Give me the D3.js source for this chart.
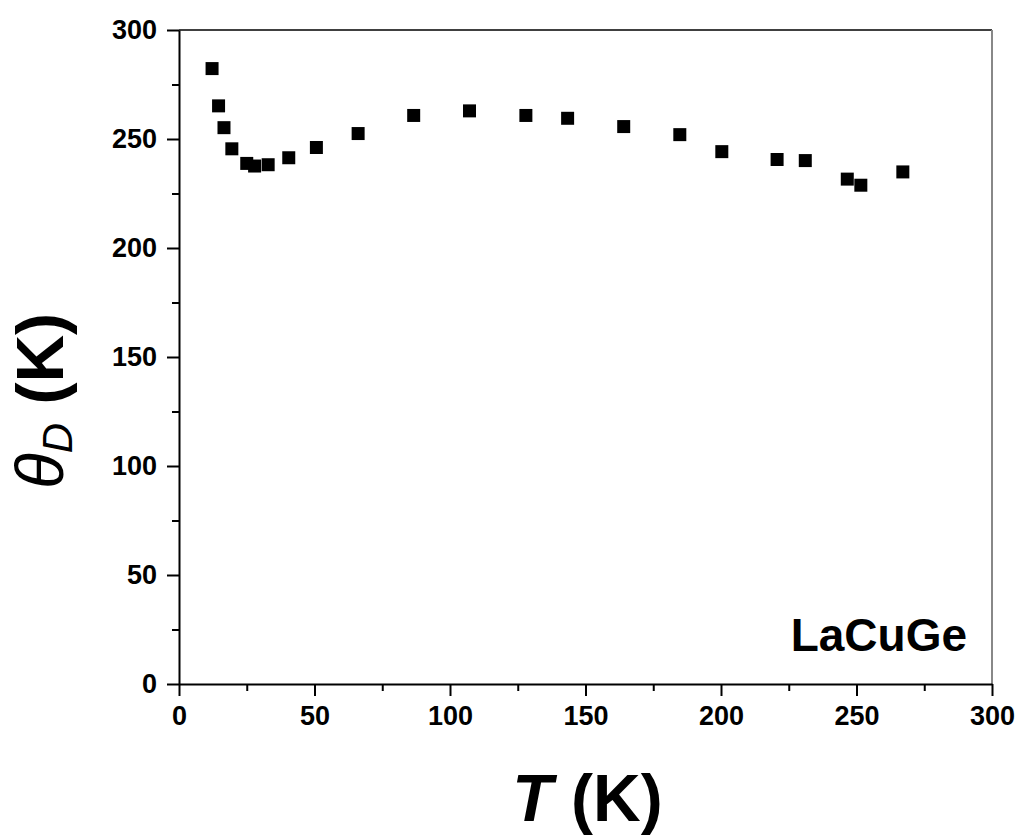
<!DOCTYPE html>
<html>
<head>
<meta charset="utf-8">
<script src="https://cdn.jsdelivr.net/npm/d3@7"></script>
<style>
  body { margin: 0; background: #fff; }
  text { font-family: "Liberation Sans", Arial, sans-serif; }
</style>
</head>
<body>
<svg id="chart" width="1023" height="838"></svg>
<script>
// ---- data ----
const temperature = [12.2, 14.6, 16.6, 19.5, 25.0, 27.9, 32.9, 40.5, 50.7, 66.1, 86.6,
                     107.2, 128.0, 143.4, 164.1, 184.8, 200.3, 220.7, 231.1, 246.6, 251.6, 267.1];
const thetaD = [282.3, 265.2, 255.2, 245.5, 238.8, 237.6, 238.2, 241.4, 246.1, 252.5, 260.8,
                262.9, 260.8, 259.5, 255.7, 252.0, 244.2, 240.6, 240.1, 231.6, 228.8, 234.9];
const xMajorTicks = [0, 50, 100, 150, 200, 250, 300];
const xMinorTicks = [25, 75, 125, 175, 225, 275];
const yMajorTicks = [0, 50, 100, 150, 200, 250, 300];
const yMinorTicks = [25, 75, 125, 175, 225, 275];
const sampleLabel = "LaCuGe";

// ---- layout ----
const svg = d3.select("#chart");
const mLeft = 179, mRight = 992, mTop = 30, mBottom = 684;

const x = d3.scaleLinear().domain([0, 300]).range([mLeft, mRight]);
const y = d3.scaleLinear().domain([0, 300]).range([mBottom, mTop]);

// frame: top & right
svg.append("line").attr("x1", x(0)).attr("x2", x(300)).attr("y1", y(300)).attr("y2", y(300))
  .attr("stroke", "#000").attr("stroke-width", 1.5);
svg.append("line").attr("x1", x(300)).attr("x2", x(300)).attr("y1", y(300)).attr("y2", y(0))
  .attr("stroke", "#888").attr("stroke-width", 2);

function styleAxis(g) {
  g.select(".domain").attr("stroke", "#000").attr("stroke-width", 2);
  g.selectAll(".tick line").attr("stroke", "#000").attr("stroke-width", 2);
  g.selectAll(".tick text").attr("fill", "#000").attr("font-size", 27).attr("font-weight", "bold");
}

// x axis
const gx = svg.append("g").attr("transform", `translate(0,${mBottom})`)
  .call(d3.axisBottom(x).tickValues(xMajorTicks).tickSize(12).tickPadding(10).tickSizeOuter(0));
styleAxis(gx);
const gxm = svg.append("g").attr("transform", `translate(0,${mBottom})`)
  .call(d3.axisBottom(x).tickValues(xMinorTicks).tickSize(7).tickFormat(""));
gxm.select(".domain").remove();
gxm.selectAll(".tick line").attr("stroke", "#000").attr("stroke-width", 2);

// y axis
const gy = svg.append("g").attr("transform", `translate(${mLeft},0)`)
  .call(d3.axisLeft(y).tickValues(yMajorTicks).tickSize(12).tickPadding(10).tickSizeOuter(0));
styleAxis(gy);
const gym = svg.append("g").attr("transform", `translate(${mLeft},0)`)
  .call(d3.axisLeft(y).tickValues(yMinorTicks).tickSize(7).tickFormat(""));
gym.select(".domain").remove();
gym.selectAll(".tick line").attr("stroke", "#000").attr("stroke-width", 2);

// data markers
const sq = d3.symbol().type(d3.symbolSquare).size(13 * 13);
svg.append("g").selectAll("path")
  .data(temperature.map((t, i) => [t, thetaD[i]]))
  .join("path")
  .attr("transform", d => `translate(${x(d[0])},${y(d[1])})`)
  .attr("d", sq)
  .attr("fill", "#000");

// x title
const xt = svg.append("text")
  .attr("x", (mLeft + mRight) / 2 + 2).attr("y", 821)
  .attr("text-anchor", "middle").attr("font-size", 66).attr("font-weight", "bold").attr("fill", "#000");
xt.append("tspan").attr("font-style", "italic").text("T");
xt.append("tspan").text(" (K)");

// y title
const yt = svg.append("text")
  .attr("transform", "translate(63,401) rotate(-90)")
  .attr("text-anchor", "middle").attr("font-size", 66).attr("fill", "#000");
yt.append("tspan").attr("font-style", "italic").text("θ");
yt.append("tspan").attr("font-style", "italic").attr("font-size", 42).attr("dy", 9).text("D");
yt.append("tspan").attr("font-weight", "bold").attr("dy", -9).text(" (K)");

// sample label
svg.append("text")
  .attr("x", 967).attr("y", 651)
  .attr("text-anchor", "end").attr("font-size", 46).attr("font-weight", "bold").attr("fill", "#000")
  .text(sampleLabel);
</script>
</body>
</html>
